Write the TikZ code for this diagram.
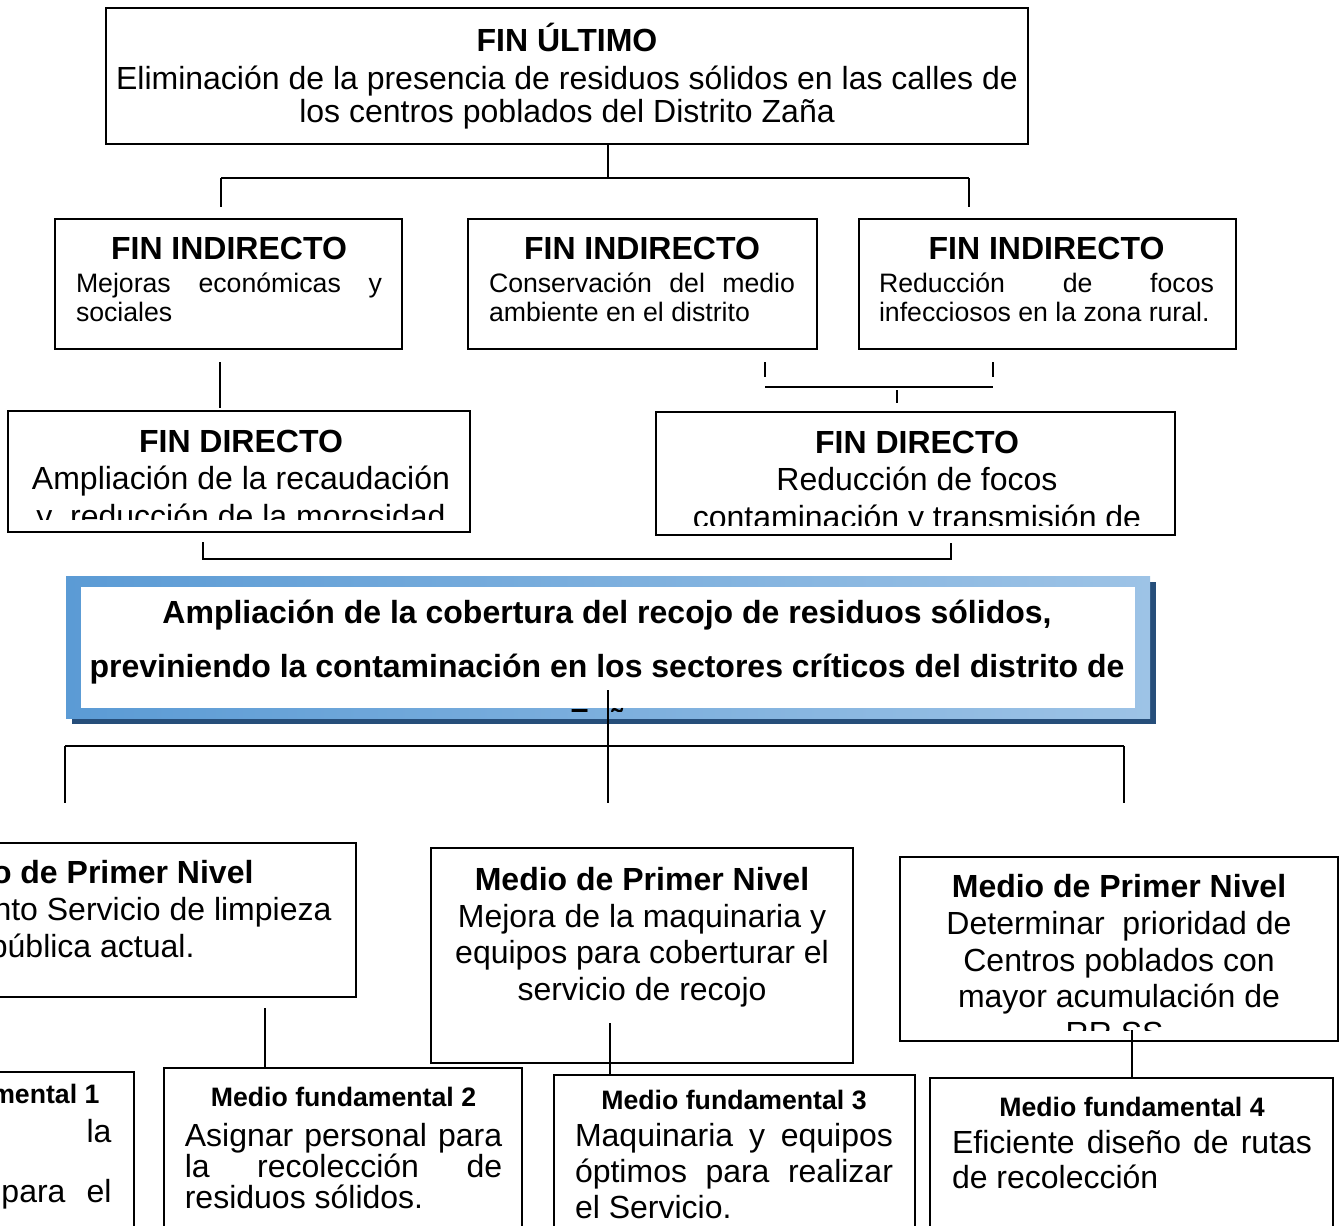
\documentclass[tikz,border=0pt]{standalone}
\usepackage{fontspec}
\setmainfont{Liberation Sans}
\usetikzlibrary{fit}
\setlength{\parindent}{0pt}
\setlength{\parskip}{0pt}
\hyphenpenalty=10000
\exhyphenpenalty=10000
\tolerance=10000
\definecolor{azulclaro}{HTML}{9DC3E6}
\definecolor{azulmedio}{HTML}{5B9BD5}
\definecolor{azulsombra}{HTML}{264E7A}
\newcommand{\tope}{\rule{0pt}{12pt}}
\newcommand{\titulo}{\bfseries\fontsize{12}{14}\selectfont}
\newcommand{\titchico}{\bfseries\fontsize{10}{12}\selectfont}
\tikzset{
  caja/.style={draw, line width=0.75pt, inner sep=0pt},
  linea/.style={line width=0.5pt},
  barra/.style={line width=0.9pt},
  texto/.style={inner sep=0pt, anchor=north, align=center, font=\fontsize{12}{13.5}\selectfont},
  justo/.style={inner sep=0pt, anchor=north, align=justify},
  trozo/.style={inner sep=0pt, anchor=base east, font=\fontsize{12}{13.5}\selectfont},
}

\begin{document}
\begin{tikzpicture}[x=0.375pt, y=-0.375pt]
\useasboundingbox (0,0) rectangle (1340,1225);
\clip (0,0) rectangle (1340,1225);
\fill [white] (0,0) rectangle (1340,1225);

\path node[caja, fit={(106,8) (1028,144)}] (ultimo) {};
\path node[caja, fit={(55,219) (402,349)}] (ind1) {};
\path node[caja, fit={(468,219) (817,349)}] (ind2) {};
\path node[caja, fit={(859,219) (1236,349)}] (ind3) {};
\path node[caja, fit={(8,411) (470,532)}] (dir1) {};
\path node[caja, fit={(656,412) (1175,535)}] (dir2) {};
\path node[caja, fit={(-300,843) (356,997)}] (med1) {};
\path node[caja, fit={(431,848) (853,1063)}] (med2) {};
\path node[caja, fit={(900,857) (1338,1041)}] (med3) {};
\path node[caja, fit={(-300,1072) (134,1300)}] (fun1) {};
\path node[caja, fit={(164,1068) (522,1300)}] (fun2) {};
\path node[caja, fit={(554,1075) (915,1300)}] (fun3) {};
\path node[caja, fit={(930,1078) (1333,1300)}] (fun4) {};

\path (567,19) node[texto, font=\fontsize{12}{12.4}\selectfont] (ultimo-t) {\tope{\titulo FIN ÚLTIMO}\\[1.85pt]Eliminación de la presencia de residuos sólidos en las calles de\\los centros poblados del Distrito Zaña};

\path (229,227) node[justo, text width=114.75pt] (ind1-t) {{\centering\tope\titulo FIN INDIRECTO\par}\vspace{1.4pt}\fontsize{10}{11}\selectfont Mejoras económicas y\linebreak sociales\par};
\path (642,227) node[justo, text width=114.75pt] (ind2-t) {{\centering\tope\titulo FIN INDIRECTO\par}\vspace{1.4pt}\fontsize{10}{11}\selectfont Conservación del medio\linebreak ambiente~en~el~distrito\par};
\path (1046.5,227) node[justo, text width=125.6pt] (ind3-t) {{\centering\tope\titulo FIN INDIRECTO\par}\vspace{1.4pt}\fontsize{10}{11}\selectfont Reducción de focos\linebreak infecciosos~en~la~zona~rural.\par};

\begin{scope}
\clip (8,411) rectangle (470,519.5);
\path (241,420) node[texto, font=\fontsize{12}{14}\selectfont] (dir1-t) {\tope{\titulo FIN DIRECTO}\\Ampliación de la recaudación\\y\ \ reducción de la morosidad};
\end{scope}
\begin{scope}
\clip (656,412) rectangle (1175,525);
\path (917,421) node[texto, font=\fontsize{12}{14}\selectfont] (dir2-t) {\tope{\titulo FIN DIRECTO}\\Reducción de focos\\contaminación y transmisión de};
\end{scope}

\fill [azulsombra] (72,582) rectangle (1156,724);
\path node[fit={(66,576) (1150,718)}, inner sep=0pt, left color=azulmedio, middle color=azulclaro, right color=azulclaro] (prop) {};
\fill [white] (81,587) rectangle (1135,708);
\begin{scope}
\clip (81,587) rectangle (1135,711);
\path (607,591) node[texto, font=\bfseries\fontsize{12}{20.25}\selectfont] (prop-t) {\tope Ampliación de la cobertura del recojo de residuos sólidos,\\previniendo la contaminación en los sectores críticos del distrito de\\Zaña};
\end{scope}

\path (254,883) node[trozo] (med1-a) {\bfseries o de Primer Nivel};
\path (332,920) node[trozo] (med1-b) {nto Servicio de limpieza};
\path (195,957) node[trozo] (med1-c) {pública actual.};
\path (642,858) node[texto, font=\fontsize{12}{13.7}\selectfont] (med2-t) {\tope{\titulo Medio de Primer Nivel}\\Mejora de la maquinaria y\\equipos para coberturar el\\servicio de recojo};
\begin{scope}
\clip (900,857) rectangle (1338,1030);
\path (1119,865) node[texto, font=\fontsize{12}{13.8}\selectfont] (med3-t) {\tope{\titulo Medio de Primer Nivel}\\Determinar\ \ prioridad de\\Centros poblados con\\mayor acumulación de\\RR.SS.};
\end{scope}

\path (100,1103) node[trozo, font=\titchico] (fun1-a) {mental 1};
\path (112,1142) node[trozo] (fun1-b) {la};
\path (112,1202) node[trozo] (fun1-c) {\makebox[41.25pt][s]{para el}};
\path (343.5,1074) node[justo, text width=119pt] (fun2-t) {{\centering\tope\titchico Medio fundamental 2\par}\vspace{3pt}\fontsize{12}{11.8}\selectfont Asignar personal para\linebreak la recolección de\linebreak residuos~sólidos.\par};
\begin{scope}
\clip (554,1075) rectangle (915,1219);
\path (734,1077) node[justo, text width=119.25pt] (fun3-t) {{\centering\tope\titchico Medio fundamental 3\par}\vspace{0.4pt}\fontsize{12}{13.5}\selectfont Maquinaria y equipos\linebreak óptimos para realizar\linebreak el~Servicio.\par};
\end{scope}
\path (1132,1084) node[justo, text width=135pt] (fun4-t) {{\centering\tope\titchico Medio fundamental 4\par}\vspace{0.6pt}\fontsize{12}{13.2}\selectfont Eficiente diseño de rutas\linebreak de~recolección\par};

\coordinate (u1) at (608,177);
\coordinate (ua) at (221,178);
\coordinate (ub) at (969,178);
\draw [linea] (ultimo.south -| u1) -- (u1);
\draw [barra] (ua) -- (ub);
\draw [linea] (ua) -- ++(0,29);
\draw [linea] (ub) -- ++(0,29);

\coordinate (i1) at (220,362);
\coordinate (i2) at (765,362);
\coordinate (i3) at (993,362);
\coordinate (j1) at (765,387);
\coordinate (j2) at (993,387);
\coordinate (j3) at (897,390);
\draw [linea] (i1) -- ++(0,46);
\draw [linea] (i2) -- ++(0,15);
\draw [linea] (i3) -- ++(0,15);
\draw [linea] (j1) -- (j2);
\draw [linea] (j3) -- ++(0,13);

\coordinate (d1) at (203,542);
\coordinate (d2) at (951,559);
\draw [linea] (d1) |- (d2) -- ++(0,-16);

\coordinate (p1) at (608,690);
\coordinate (m1) at (65,746);
\coordinate (m2) at (1124,746);
\draw [linea] (p1) -- ++(0,113);
\draw [barra] (m1) -- (m2);
\draw [linea] (m1) -- ++(0,57);
\draw [linea] (m2) -- ++(0,57);

\coordinate (e1) at (265,1008);
\coordinate (e2) at (610,1023);
\coordinate (e3) at (1132,1030);
\draw [linea] (e1) -- (e1 |- fun2.north);
\draw [linea] (e2) -- (e2 |- fun3.north);
\draw [linea] (e3) -- (e3 |- fun4.north);
\end{tikzpicture}
\end{document}
